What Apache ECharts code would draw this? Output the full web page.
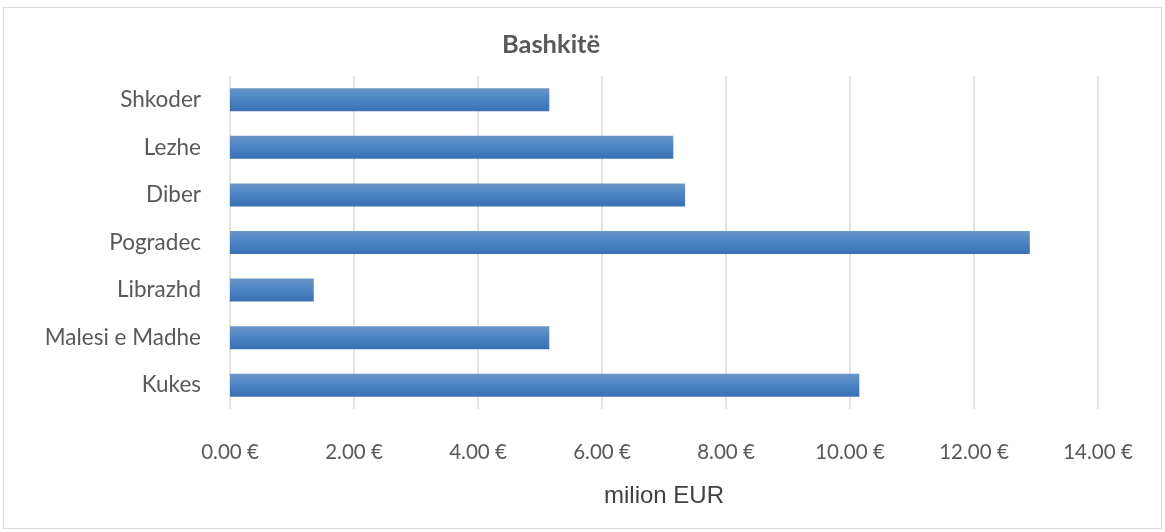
<!DOCTYPE html>
<html>
<head>
<meta charset="utf-8">
<script src="https://cdn.jsdelivr.net/npm/echarts@6/dist/echarts.min.js"></script>
<style>
  html, body { margin: 0; padding: 0; background: #fff; }
  #frame { position: absolute; left: 3px; top: 7px; width: 1159px; height: 522px; border: 1px solid #d9d9d9; box-sizing: border-box; }
  #chart { position: absolute; left: 0; top: 0; width: 1165px; height: 532px; }
</style>
</head>
<body>
<div id="frame"></div>
<div id="chart"></div>
<script>
// categories listed bottom to top (category axis on y starts at the bottom)
const regions = ['Kukes', 'Malesi e Madhe', 'Librazhd', 'Pogradec', 'Diber', 'Lezhe', 'Shkoder']
const amounts = [10.15, 5.15, 1.35, 12.9, 7.34, 7.15, 5.15]
const xTicks = { min: 0, max: 14, step: 2 }

const chart = echarts.init(document.getElementById('chart'))

const barFill = new echarts.graphic.LinearGradient(0, 0, 0, 1, [
  { offset: 0, color: '#6b95c9' },
  { offset: 0.5, color: '#4a83c3' },
  { offset: 1, color: '#3a70b2' }
])

chart.setOption({
  animation: false,
  title: {
    text: 'Bashkitë',
    left: 546,
    top: 27,
    textAlign: 'center',
    textStyle: { fontFamily: 'Lato', fontWeight: 'bold', fontSize: 25.5, color: '#595959' }
  },
  grid: { left: 230, right: 67, top: 76, bottom: 123, containLabel: false },
  xAxis: {
    type: 'value',
    min: xTicks.min,
    max: xTicks.max,
    interval: xTicks.step,
    axisLine: { show: false },
    axisTick: { show: false },
    splitLine: { lineStyle: { color: '#d9d9d9', width: 1.5 } },
    axisLabel: {
      margin: 33,
      fontFamily: 'Lato',
      fontSize: 20.5,
      color: '#595959',
      formatter: v => v.toFixed(2) + ' €'
    },
    name: 'milion EUR',
    nameLocation: 'middle',
    nameGap: 75,
    nameTextStyle: { fontFamily: 'Liberation Sans', fontSize: 24, color: '#404040' }
  },
  yAxis: {
    type: 'category',
    data: regions,
    axisLine: { show: false },
    axisTick: { show: false },
    axisLabel: { margin: 29, fontFamily: 'Lato', fontSize: 22.5, color: '#595959' }
  },
  series: [{
    type: 'bar',
    data: amounts,
    barWidth: 23,
    itemStyle: { color: barFill }
  }]
})
</script>
</body>
</html>
